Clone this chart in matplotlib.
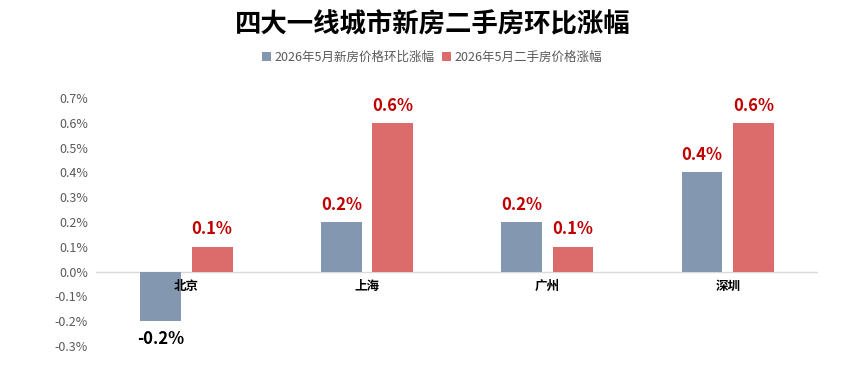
import matplotlib
matplotlib.use("Agg")
import matplotlib.pyplot as plt
import numpy as np
from matplotlib.ticker import FuncFormatter

plt.rcParams['font.family'] = ['Noto Sans CJK SC', 'DejaVu Sans']

cities = ["北京", "上海", "广州", "深圳"]
new_home = [-0.2, 0.2, 0.2, 0.4]
second_hand = [0.1, 0.6, 0.1, 0.6]
series_names = ["2026年5月新房价格环比涨幅", "2026年5月二手房价格涨幅"]
title = "四大一线城市新房二手房环比涨幅"

c_blue = "#8497B0"
c_red = "#DC6B6B"
c_lab = "#C00000"

fig = plt.figure(figsize=(8.56, 3.86), dpi=100)
ax = fig.add_axes([0.1125, 0.1036, 0.843, 0.6424])

x = np.arange(len(cities))
w = 0.226
off = 0.142
b1 = ax.bar(x - off, new_home, w, color=c_blue, label=series_names[0])
b2 = ax.bar(x + off, second_hand, w, color=c_red, label=series_names[1])

for xi, v in zip(x - off, new_home):
    if v >= 0:
        ax.annotate(f"{v:.1f}%", (xi, v), xytext=(0, 6), textcoords="offset points",
                    ha="center", va="bottom", fontsize=12, fontweight="bold", color=c_lab)
    else:
        ax.annotate(f"{v:.1f}%", (xi, v), xytext=(0, -6), textcoords="offset points",
                    ha="center", va="top", fontsize=12, fontweight="bold", color="black")
for xi, v in zip(x + off, second_hand):
    ax.annotate(f"{v:.1f}%", (xi, v), xytext=(0, 6), textcoords="offset points",
                ha="center", va="bottom", fontsize=12, fontweight="bold", color=c_lab)

ax.set_xlim(-0.5, len(cities) - 0.5)
ax.set_ylim(-0.3, 0.7)
ax.set_yticks(np.arange(-0.3, 0.71, 0.1))
ax.yaxis.set_major_formatter(FuncFormatter(lambda v, p: f"{v:.1f}%"))
ax.tick_params(axis="y", length=0, labelsize=9, labelcolor="#595959", pad=6)
ax.set_xticks([])
for s in ax.spines.values():
    s.set_visible(False)
ax.axhline(0, color="#D9D9D9", lw=1, zorder=0)

for xi, c in zip(x, cities):
    ax.text(xi, -0.035, c, ha="center", va="top", fontsize=9, fontweight="bold", color="black")

fig.text(0.505, 0.935, title, ha="center", va="center", fontsize=19, fontweight="bold")
fig.legend(handles=[b1, b2], loc="center", bbox_to_anchor=(0.505, 0.852), ncol=2,
           frameon=False, fontsize=9, handlelength=0.7, handleheight=0.7,
           handletextpad=0.3, columnspacing=0.6, labelcolor="#595959")

fig.savefig("out.png", dpi=100)
